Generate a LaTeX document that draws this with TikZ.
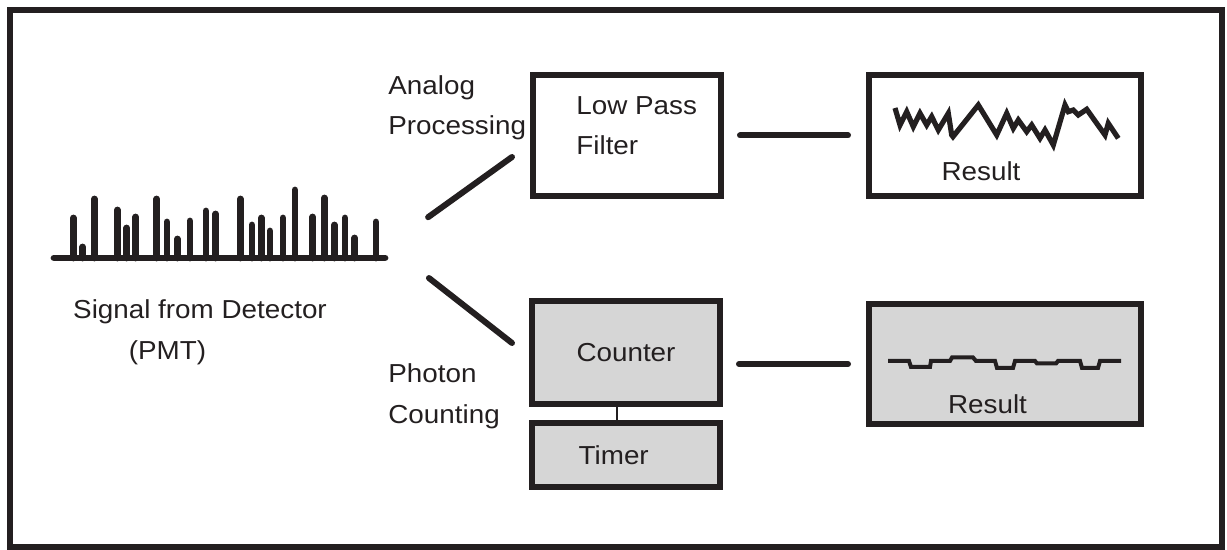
\documentclass[tikz,border=0pt]{standalone}
\usepackage{fontspec}
\setmainfont{Liberation Sans}[FakeStretch=1.07]
\usetikzlibrary{positioning}
\definecolor{ink}{RGB}{35,31,32}
\definecolor{shade}{RGB}{214,214,214}
\tikzset{
    unitbox/.style={draw=ink, line width=3pt, inner sep=0pt, text=ink,
        font=\fontsize{13}{20.4}\selectfont},
    greybox/.style={unitbox, fill=shade},
    txt/.style={text=ink, inner sep=0pt, align=left,
        font=\fontsize{13}{20.4}\selectfont},
    wire/.style={draw=ink, line width=3pt, line cap=round},
    pulse/.style={draw=ink, line width=3.4pt, line cap=round},
    trace/.style={draw=ink, line width=2.6pt, line join=miter},
}
\begin{document}
\begin{tikzpicture}[x=0.5pt, y=-0.5pt]
    \useasboundingbox (0,0) rectangle (1227,550);
    \draw[draw=ink, line width=3.2pt] (10,10) rectangle (1222,547);

    % detector pulses on their base line
    \draw[pulse] (54,258) -- (385,258);
    \foreach \x/\h in {73.3/218, 82.7/247, 94.3/199, 117.3/210, 126.7/228,
        135.7/217, 156.7/199, 167/222, 177.3/239, 190/221, 206/211,
        215.7/214, 240.3/199, 252/225, 261.3/218, 270/231, 283/218,
        295/190, 312.7/217, 324.3/198, 334.3/225, 345/218, 354.7/238,
        376/222}
        \draw[pulse] (\x,258) -- (\x,\h);
    \node[txt, anchor=base] (sigtext) at (200,318.3) {Signal from Detector};
    \node[txt, anchor=base] (pmt) at (167.5,360) {(PMT)};

    % the two processing paths
    \node[unitbox, minimum width=94pt, minimum height=60.5pt] (lpf) at (627,135.5) {};
    \node[greybox, minimum width=94pt, minimum height=51.5pt] (counter) at (626,352.5) {Counter};
    \node[greybox, minimum width=94pt, minimum height=32pt, below=6.5pt of counter] (timer) {};
    \node[unitbox, minimum width=136pt, minimum height=60.5pt, right=71pt of lpf] (res1) {};
    \node[greybox, minimum width=136pt, minimum height=60pt] (res2) at (1005,364) {};

    \node[txt, anchor=base west] (analog) at (388,135) {Analog\\Processing};
    \node[txt, anchor=base west] (photon) at (388,423.3) {Photon\\Counting};
    \node[txt, anchor=base west] (lpftext) at (576,155) {Low Pass\\Filter};
    \node[txt, anchor=base west] (timertext) at (578.3,465) {Timer};
    \node[txt, anchor=base] (res1text) at (981,181) {Result};
    \node[txt, anchor=base] (res2text) at (987.5,413.3) {Result};

    % connectors
    \coordinate (fork) at (388,246);
    \coordinate (ain) at (512,157);
    \coordinate (pin) at (512,343);
    \draw[wire, shorten <=24.7pt] (fork) -- (ain);
    \draw[wire, shorten <=26pt] (fork) -- (pin);
    \draw[wire, shorten <=8pt, shorten >=9pt] (lpf.east) -- (res1.west);
    \draw[wire, shorten <=8pt, shorten >=9pt] (counter.east |- res2.west) -- (res2.west);
    \draw[draw=ink, line width=1.2pt] ([xshift=-4.5pt]counter.south) -- ([xshift=-4.5pt]timer.north);

    % filtered result
    \draw[trace] (895,108) -- (900,125) -- (906.7,111.7) -- (913.3,126.7)
        -- (920,113.3) -- (926.7,125) -- (931.7,116.7) -- (938.3,130)
        -- (948.3,113.3) -- (951.7,135) -- (953,136.7) -- (978.3,105)
        -- (996.7,135) -- (1006.7,113.3) -- (1013.3,128.3) -- (1018.3,120)
        -- (1026.7,131.7) -- (1031.7,125) -- (1040,138.3) -- (1045,130)
        -- (1053.3,145) -- (1065,105) -- (1068.3,111.7) -- (1073.3,110)
        -- (1078.3,115) -- (1086.7,109.3) -- (1105,135) -- (1108.3,123.3)
        -- (1118.3,138.3);

    % counted result
    \draw[draw=ink, line width=2pt] (888,361) -- (909,361) -- (911,367) -- (930,367)
        -- (931,361) -- (950,361) -- (952,357.5) -- (973,357.5) -- (976,361)
        -- (995,361) -- (997,368) -- (1013,368) -- (1015,361) -- (1035,361)
        -- (1037,363.5) -- (1056,363.5) -- (1058,361) -- (1080,361) -- (1082,368)
        -- (1098,368) -- (1100,361) -- (1121,361);
\end{tikzpicture}
\end{document}
